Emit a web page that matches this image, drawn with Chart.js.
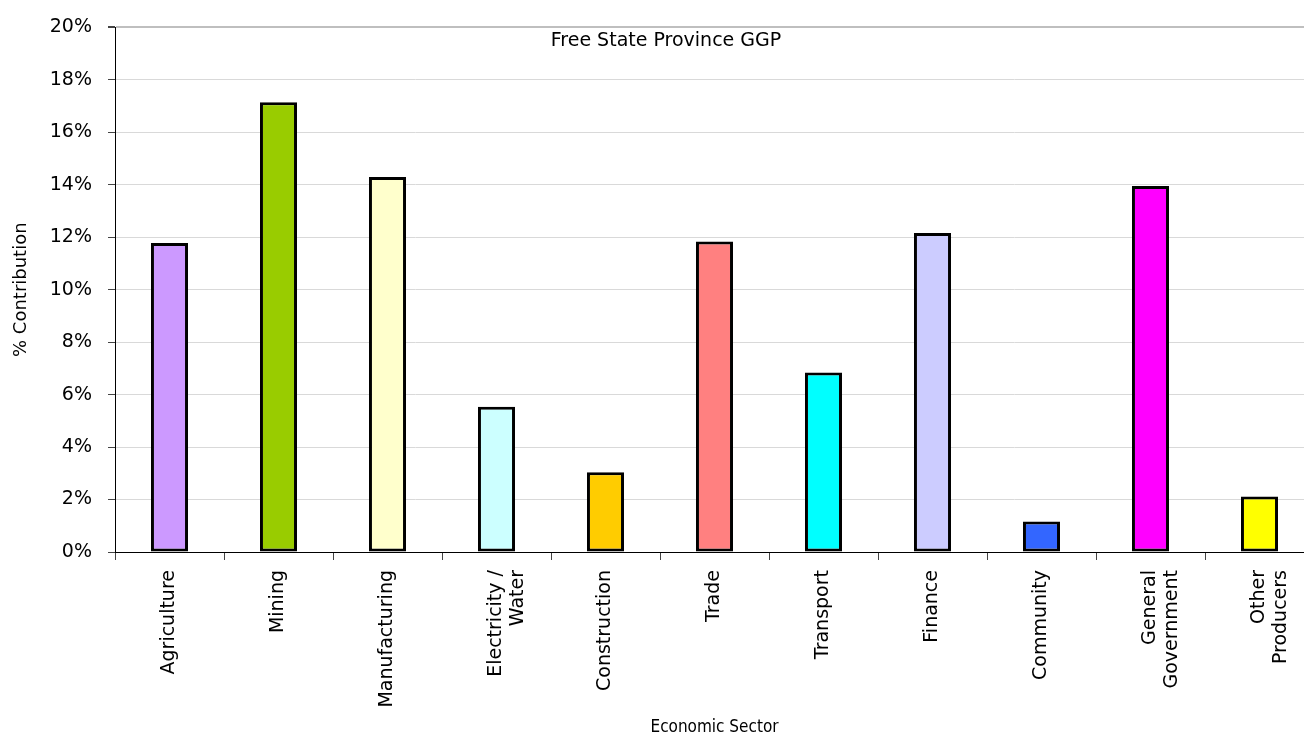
<!DOCTYPE html>
<html>
<head>
<meta charset="utf-8">
<script src="https://cdn.jsdelivr.net/npm/chart.js@4"></script>
<style>
  html, body { margin: 0; padding: 0; background: #fff; overflow: hidden; }
  #wrap { width: 1314px; height: 738px; }
</style>
</head>
<body>
<div id="wrap"><canvas id="ggpChart"></canvas></div>
<script>
// Sector labels (multi-line where the original wraps)
const sectors = [
    'Agriculture', 'Mining', 'Manufacturing', ['Electricity /', 'Water'],
    'Construction', 'Trade', 'Transport', 'Finance', 'Community',
    ['General', 'Government'], ['Other', 'Producers']
];
// % contribution to GGP
const contribution = [11.78, 17.15, 14.3, 5.54, 3.04, 11.84, 6.84, 12.16, 1.16, 13.95, 2.12];
const barColors = [
    '#CC99FF', '#99CC00', '#FFFFCC', '#CCFFFF', '#FFCC00', '#FF8080',
    '#00FFFF', '#CCCCFF', '#3366FF', '#FF00FF', '#FFFF00'
];
const yTicks = [0, 2, 4, 6, 8, 10, 12, 14, 16, 18, 20];

const FONT = '"Comic Sans MS", "DejaVu Sans", sans-serif';

// Title sits inside the plot area, near the top
const innerTitle = {
    id: 'innerTitle',
    afterDraw(chart) {
        const { ctx, chartArea } = chart;
        ctx.save();
        ctx.font = '19px ' + FONT;
        ctx.fillStyle = '#000';
        ctx.textAlign = 'center';
        ctx.textBaseline = 'middle';
        ctx.fillText('Free State Province GGP', 666, chartArea.top + 14);
        ctx.restore();
    }
};

new Chart(document.getElementById('ggpChart'), {
    type: 'bar',
    data: {
        labels: sectors,
        datasets: [{
            data: contribution,
            backgroundColor: barColors,
            borderColor: '#000',
            borderWidth: 3,
            borderSkipped: false,
            barPercentage: 0.34,
            categoryPercentage: 1.0
        }]
    },
    options: {
        responsive: true,
        maintainAspectRatio: false,
        animation: false,
        layout: { padding: { top: 22, right: 0, left: 0, bottom: 0 } },
        plugins: {
            legend: { display: false },
            tooltip: { enabled: false }
        },
        scales: {
            x: {
                grid: {
                    drawOnChartArea: false,
                    tickLength: 8,
                    tickColor: '#444',
                    offset: true
                },
                border: { color: '#000', width: 1 },
                ticks: {
                    maxRotation: 90,
                    minRotation: 90,
                    padding: 10,
                    color: '#000',
                    font: { family: FONT, size: 19, lineHeight: 1.15 }
                },
                title: {
                    display: true,
                    text: 'Economic Sector',
                    color: '#000',
                    padding: { top: 0, bottom: 0 },
                    font: { family: '"Liberation Sans Narrow", "DejaVu Sans Condensed", ' + FONT, size: 17 }
                },
                afterFit(scale) { scale.height = 186; }
            },
            y: {
                min: 0,
                max: 20,
                afterBuildTicks(scale) {
                    scale.ticks = yTicks.map(v => ({ value: v }));
                },
                grid: {
                    color: ctx => ctx.tick && ctx.tick.value === 20 ? '#BFBFBF' : '#D9D9D9',
                    lineWidth: ctx => ctx.tick && ctx.tick.value === 20 ? 2 : 1,
                    tickColor: '#444',
                    tickLength: 7
                },
                border: { color: '#000', width: 1 },
                ticks: {
                    padding: 16,
                    color: '#000',
                    font: { family: FONT, size: 19 },
                    callback: v => v + '%'
                },
                title: {
                    display: true,
                    text: '% Contribution',
                    color: '#000',
                    padding: { top: 11, bottom: 0 },
                    font: { family: FONT, size: 18 }
                },
                afterFit(scale) { scale.width = 115; }
            }
        }
    },
    plugins: [innerTitle]
});
</script>
</body>
</html>
